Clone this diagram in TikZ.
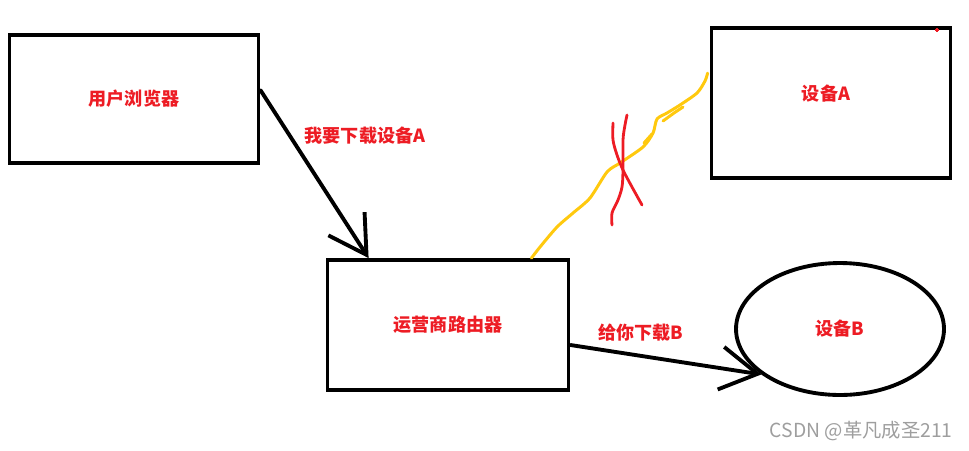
\documentclass[tikz,border=0pt]{standalone}
\usepackage{fontspec}
\newfontfamily\cjk{Noto Sans CJK SC}
\usetikzlibrary{arrows.meta,calc,positioning,shapes.geometric}
\definecolor{paintred}{HTML}{ED1C24}
\definecolor{paintgold}{HTML}{FFC90E}
\tikzset{
  node-r/.style={draw,rectangle,line width=2.2pt,inner sep=0pt,text=paintred,font=\cjk\bfseries\fontsize{10.3}{12}\selectfont},
  node-e/.style={draw,ellipse,line width=2.2pt,inner sep=0pt,text=paintred,font=\cjk\bfseries\fontsize{10.3}{12}\selectfont},
  tag/.style={inner sep=0pt,text=paintred,font=\cjk\bfseries\fontsize{10.3}{12}\selectfont},
  req/.style={-{Straight Barb[length=7.4mm,width=8.6mm]},line width=2.2pt,line cap=round},
  wire/.style={paintgold,line width=1.7pt,line cap=round,line join=round},
  cross/.style={paintred,line width=1.6pt,line cap=round,line join=round},
  wm/.style={inner sep=0pt,text=black!38,font=\cjk\fontsize{11}{12}\selectfont},
}

\begin{document}
\begin{tikzpicture}[x=0.02cm,y=-0.02cm]
  \useasboundingbox (0,0) rectangle (969,450);

  % BOXES
  \node[node-r,minimum width=4.98cm,minimum height=2.56cm] (user)   at (134,99)  {用户浏览器};
  \node[node-r,minimum width=4.78cm,minimum height=3.00cm,
        label={[tag,xshift=-0.1cm,yshift=0.18cm]center:设备A}] (devA) at (831,103) {};
  \node[node-r,minimum width=4.82cm,minimum height=2.60cm] (router) at (448,325) {运营商路由器};
  \node[node-e,minimum width=4.16cm,minimum height=2.64cm] (devB)   at (840,329) {设备B};

  % LABELS
  \node[tag] (askA)  at (365,136) {我要下载设备A};
  \node[tag] (giveB) at (641,333) {给你下载B};

  % ARROWS
  \draw[req] ($(user.north east)+(0,57)$) -- ($(router.north west)+(43,0)$);
  \draw[req] ($(router.east)+(0,20)$) -- (devB.210);

  % BROKEN LINK
  \coordinate (cut)  at ($(router.north east)+(-39,0)$);
  \coordinate (hitA) at ($(devA.north west)+(-2,47)$);
  \draw[wire] plot[smooth,tension=0.45] coordinates {(cut) (540,247) (557,227) (573,213)
    (590,198) (607,172) (620,163) (643,147) (653,133) (657,119) (667,113) (680,105)
    (697,93) (705,81) (hitA)};
  \draw[wire] (663,121) -- (674,113) -- (683,107);
  \draw[wire] (644,143) -- (652,134);
  \draw[cross] plot[smooth,tension=0.5] coordinates {(627,115) (625,125) (623,140)
    (623,170) (622,187) (618,200) (612,213) (612,225)};
  \draw[cross] plot[smooth,tension=0.5] coordinates {(613,123) (613,140) (617,155)
    (623,170) (632,187) (642,205)};
  \draw[paintred,line width=0.6pt] (935,30) -- (939,30) (937,28) -- (937,32);

  % MARK
  \node[wm,anchor=east] (mark) at (953,431) {CSDN @革凡成圣211};

\end{tikzpicture}
\end{document}
